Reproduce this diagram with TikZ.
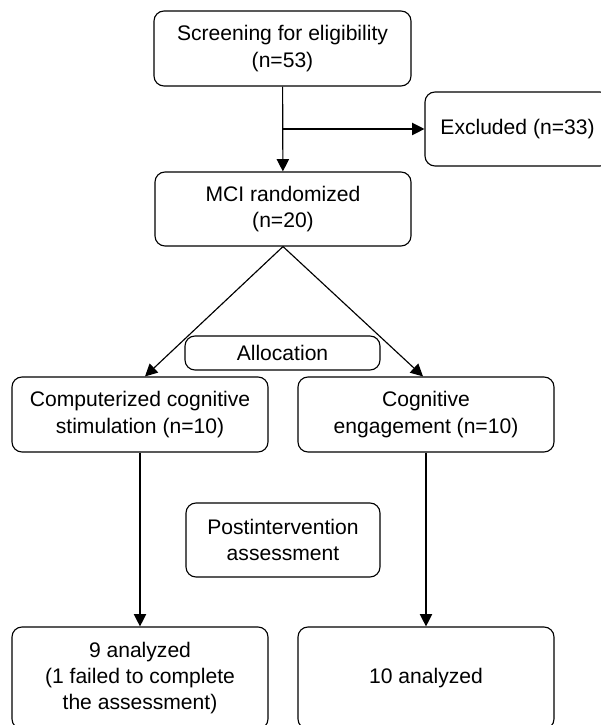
\documentclass[tikz,border=0pt]{standalone}
\usepackage{fontspec}
\setmainfont{Liberation Sans}
\usepackage{tikz}
\usetikzlibrary{calc}
\usetikzlibrary{arrows.meta}
\usetikzlibrary{positioning}
\tikzset{>={Triangle[length=7pt, width=7pt]}}
\tikzstyle{box} = [rectangle, draw = black, rounded corners = 2mm, line width = 0.65pt, align = center, inner sep = 1, font = \fontsize{12}{15}\selectfont]
\tikzstyle{arr} = [->, line width = 0.65pt, black]

\begin{document}
\begin{tikzpicture}
\useasboundingbox (0, 0) rectangle (12, 14.5);
\node [box, minimum width = 5.14cm, minimum height = 1.5cm]  (scr) at (5.65, 13.53) {Screening for eligibility\\(n=53)};
\node [box, minimum width = 3.7cm, minimum height = 1.48cm]  (exc) at (10.35, 11.92) {Excluded (n=33)};
\node [box, minimum width = 5.12cm, minimum height = 1.48cm] (mci) at (5.66, 10.32) {MCI randomized\\(n=20)};
\node [box, minimum width = 3.9cm, minimum height = 0.68cm] (alloc) at (5.65, 7.44) {Allocation};
\node [box, minimum width = 5.12cm, minimum height = 1.5cm] (ccs) at (2.8, 6.21) {Computerized cognitive\\stimulation (n=10)};
\node [box, minimum width = 5.12cm, minimum height = 1.5cm] (ce) at (8.52, 6.21) {Cognitive\\engagement (n=10)};
\node [box, minimum width = 3.88cm, minimum height = 1.48cm] (post) at (5.66, 3.7) {Postintervention\\assessment};
\node [box, minimum width = 5.12cm, minimum height = 2.04cm] (res1) at (2.8, 0.94) {9 analyzed\\(1 failed to complete\\the assessment)};
\node [box, minimum width = 5.12cm, minimum height = 2.04cm] (res2) at (8.52, 0.94) {10 analyzed};
\coordinate (split) at (scr.south |- exc.west);
\draw [arr] (scr) to (mci);
\draw [arr] (split) to (exc.west);
\draw [arr] (mci.south) to ($(ccs.north) + (0.1, 0)$);
\draw [arr] (mci.south) to ($(ce.north) + (-0.06, 0)$);
\draw [arr] (ccs) to (res1);
\draw [arr] (ce) to (res2);
\end{tikzpicture}
\end{document}
